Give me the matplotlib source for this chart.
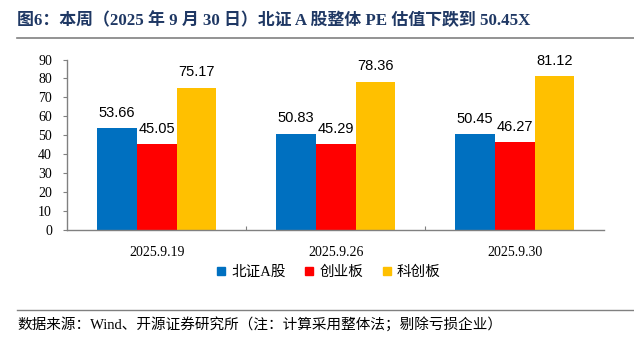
import numpy as np
import matplotlib.pyplot as plt
from matplotlib.lines import Line2D

dates = ["2025.9.19", "2025.9.26", "2025.9.30"]
series = ["北证A股", "创业板", "科创板"]
bse = [53.66, 50.83, 50.45]
gem = [45.05, 45.29, 46.27]
star = [75.17, 78.36, 81.12]
colors = ["#0070C0", "#FF0000", "#FFC000"]
yticks = [0, 10, 20, 30, 40, 50, 60, 70, 80, 90]

serif = ["Liberation Serif", "Noto Sans CJK SC"]
sans = ["Liberation Sans", "Noto Sans CJK SC"]

fig = plt.figure(figsize=(6.34, 3.48), dpi=100)
ax = fig.add_axes([0.106, 0.34, 0.847, 0.489])

x = np.arange(len(dates))
w = 0.222
for i, (vals, c) in enumerate(zip([bse, gem, star], colors)):
    bars = ax.bar(x + (i - 1) * w, vals, width=w, color=c, label=series[i])
    for b, v in zip(bars, vals):
        ax.text(b.get_x() + b.get_width() / 2, v + 4.5, f"{v:.2f}",
                ha="center", va="bottom", fontsize=10.5, family=sans)

ax.set_xlim(-0.5, 2.5)
ax.set_ylim(0, 90)
ax.set_yticks(yticks)
ax.set_yticklabels([str(t) for t in yticks], family=serif, fontsize=10)
ax.tick_params(axis="y", direction="out", length=3, color="#808080", pad=8)

# category labels in the middle, ticks on group boundaries
ax.set_xticks([0.5, 1.5])
ax.set_xticklabels([])
ax.tick_params(axis="x", direction="in", length=3, color="#808080")
for xi, d in zip(x, dates):
    ax.text(xi, -8.5, d, ha="center", va="top", fontsize=10, family=serif)

for s in ["top", "right"]:
    ax.spines[s].set_visible(False)
for s in ["left", "bottom"]:
    ax.spines[s].set_color("#808080")
    ax.spines[s].set_linewidth(1)

handles = [Line2D([], [], marker="s", linestyle="none", markersize=6,
                  markerfacecolor=c, markeredgecolor=c) for c in colors]
fig.legend(handles, series, loc="center", bbox_to_anchor=(0.515, 0.218),
           ncol=3, frameon=False, handletextpad=0.1, columnspacing=1.0,
           handlelength=1.2, prop={"family": serif, "size": 10.5})

fig.text(0.027, 0.94, "图6：本周（2025 年 9 月 30 日）北证 A 股整体 PE 估值下跌到 50.45X",
         fontsize=12.2, fontweight="bold", color="#1F3864", family=serif,
         ha="left", va="center")
fig.add_artist(Line2D([0.027, 1.0], [0.892, 0.892], color="#808080", lw=1.2))
fig.add_artist(Line2D([0.027, 1.0], [0.11, 0.11], color="#808080", lw=1))
fig.text(0.027, 0.068, "数据来源：Wind、开源证券研究所（注：计算采用整体法；剔除亏损企业）",
         fontsize=10.5, family=serif, ha="left", va="center")

fig.savefig("out.png", dpi=100)
